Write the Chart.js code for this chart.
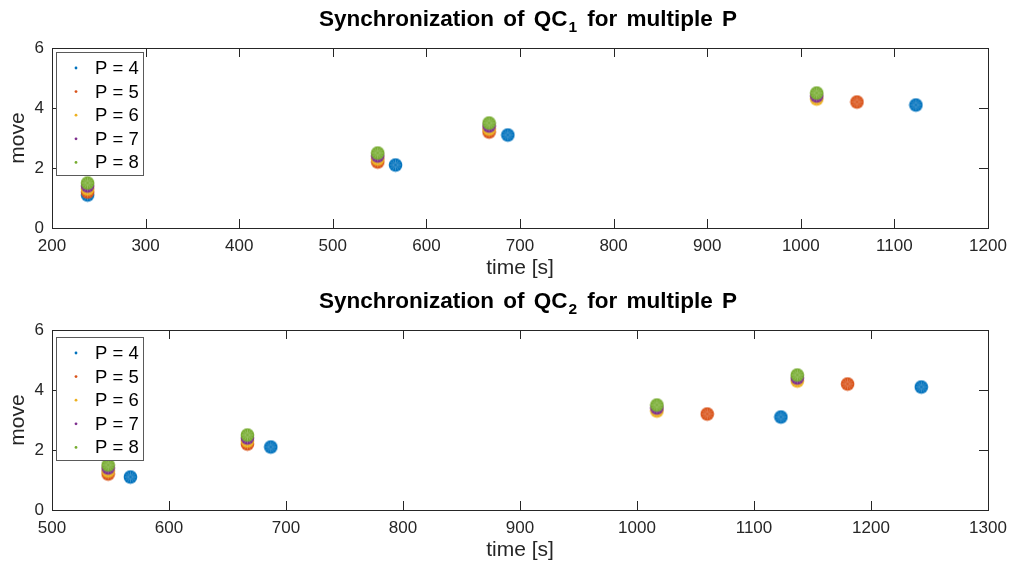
<!DOCTYPE html>
<html><head><meta charset="utf-8">
<script src="https://cdn.jsdelivr.net/npm/chart.js@4/dist/chart.umd.min.js"></script>
<style>
html,body{margin:0;padding:0;background:#fff;width:1016px;height:572px;overflow:hidden;}
canvas{position:absolute;left:0;}
#c1{top:0;}
#c2{top:282px;}
</style></head><body>
<canvas id="c1" width="1016" height="286" style="width:1016px;height:286px"></canvas>
<canvas id="c2" width="1016" height="290" style="width:1016px;height:290px"></canvas>
<script>
// ---- data ----
const seriesLabels = ['P = 4', 'P = 5', 'P = 6', 'P = 7', 'P = 8'];
const seriesColors = ['#0072BD', '#D95319', '#EDB120', '#7E2F8E', '#77AC30'];

const moveP4 = [1.1, 2.1, 3.1, 4.1];
const moveP5 = [1.2, 2.2, 3.2, 4.2];
const moveP6 = [1.3, 2.3, 3.3, 4.3];
const moveP7 = [1.4, 2.4, 3.4, 4.4];
const moveP8 = [1.5, 2.5, 3.5, 4.5];

const qc1TimeP4 = [238, 567, 687, 1123];
const qc1TimeP5 = [238, 548, 667, 1060];
const qc1TimeP6 = [238, 548, 667, 1017];
const qc1TimeP7 = [238, 548, 667, 1017];
const qc1TimeP8 = [238, 548, 667, 1017];

const qc2TimeP4 = [567, 687, 1123, 1243];
const qc2TimeP5 = [548, 667, 1060, 1180];
const qc2TimeP6 = [548, 667, 1017, 1137];
const qc2TimeP7 = [548, 667, 1017, 1137];
const qc2TimeP8 = [548, 667, 1017, 1137];

const qc1XTicks = [200, 300, 400, 500, 600, 700, 800, 900, 1000, 1100, 1200];
const qc2XTicks = [500, 600, 700, 800, 900, 1000, 1100, 1200, 1300];
const yTicks = [0, 2, 4, 6];

const moves = [moveP4, moveP5, moveP6, moveP7, moveP8];
const qc1Times = [qc1TimeP4, qc1TimeP5, qc1TimeP6, qc1TimeP7, qc1TimeP8];
const qc2Times = [qc2TimeP4, qc2TimeP5, qc2TimeP6, qc2TimeP7, qc2TimeP8];

// ---- styling helpers ----
const FONT = '"Liberation Sans", Arial, Helvetica, sans-serif';
const AX = '#262626';

function lighten(hex, f) {
  const n = parseInt(hex.slice(1), 16);
  const r = (n >> 16) & 255, g = (n >> 8) & 255, b = n & 255;
  const m = v => Math.round(v + (255 - v) * f);
  return `rgb(${m(r)},${m(g)},${m(b)})`;
}
function makeMarker(color) {
  const c = document.createElement('canvas');
  c.width = 15; c.height = 15;
  const g = c.getContext('2d');
  g.fillStyle = color;
  g.beginPath(); g.arc(7.5, 7.5, 6.8, 0, Math.PI * 2); g.fill();
  g.strokeStyle = lighten(color, 0.3);
  g.lineWidth = 0.8;
  for (let k = 0; k < 12; k++) {
    const a = k * Math.PI / 6;
    g.beginPath(); g.moveTo(7.5 + 1.2 * Math.cos(a), 7.5 + 1.2 * Math.sin(a));
    g.lineTo(7.5 + 5.6 * Math.cos(a), 7.5 + 5.6 * Math.sin(a)); g.stroke();
  }
  return c;
}
const markers = seriesColors.map(makeMarker);

function buildDatasets(times) {
  return seriesLabels.map((lab, i) => ({
    label: lab,
    data: times[i].map((t, j) => ({ x: t, y: moves[i][j] })),
    pointStyle: markers[i],
    pointRadius: 7,
    backgroundColor: seriesColors[i],
    borderColor: seriesColors[i],
    showLine: false,
    order: seriesLabels.length - 1 - i
  }));
}

const decor = {
  id: 'decor',
  afterDraw(chart, args, o) {
    const ctx = chart.ctx;
    const a = chart.chartArea;
    const xs = chart.scales.x, ys = chart.scales.y;
    ctx.save();
    // box
    ctx.strokeStyle = AX; ctx.lineWidth = 1;
    ctx.strokeRect(Math.round(a.left) + 0.5, Math.round(a.top) + 0.5, Math.round(a.right - a.left), Math.round(a.bottom - a.top));
    // inward ticks on all four sides
    const tl = 9;
    ctx.beginPath();
    xs.ticks.forEach(t => {
      const px = Math.round(xs.getPixelForValue(t.value)) + 0.5;
      ctx.moveTo(px, a.bottom); ctx.lineTo(px, a.bottom - tl);
      ctx.moveTo(px, a.top); ctx.lineTo(px, a.top + tl);
    });
    ys.ticks.forEach(t => {
      const py = Math.round(ys.getPixelForValue(t.value)) + 0.5;
      ctx.moveTo(a.left, py); ctx.lineTo(a.left + tl, py);
      ctx.moveTo(a.right, py); ctx.lineTo(a.right - tl, py);
    });
    ctx.stroke();

    // title with subscript
    ctx.fillStyle = '#000';
    ctx.textBaseline = 'alphabetic';
    const tf = 'bold 22.5px ' + FONT, sf = 'bold 15.5px ' + FONT;
    if ('wordSpacing' in ctx) ctx.wordSpacing = '3px';
    ctx.font = tf; const w1 = ctx.measureText(o.t1).width, w3 = ctx.measureText(o.t3).width;
    ctx.font = sf; const w2 = ctx.measureText(o.sub).width + 2;
    let x = 528 - (w1 + w2 + w3) / 2;
    ctx.textAlign = 'left';
    ctx.font = tf; ctx.fillText(o.t1, x, o.titleY); x += w1;
    ctx.font = sf; ctx.fillText(o.sub, x + 1, o.titleY + 6); x += w2;
    ctx.font = tf; ctx.fillText(o.t3, x, o.titleY);
    if ('wordSpacing' in ctx) ctx.wordSpacing = '0px';

    // axis titles
    ctx.fillStyle = AX;
    ctx.font = '21px ' + FONT;
    ctx.textAlign = 'center'; ctx.textBaseline = 'middle';
    ctx.fillText('time [s]', (a.left + a.right) / 2, a.bottom + 40);
    ctx.save();
    ctx.translate(18, (a.top + a.bottom) / 2);
    ctx.rotate(-Math.PI / 2);
    ctx.fillText('move', 0, 0);
    ctx.restore();

    // legend
    const lx = 56, ly = a.top + o.legOff, lw = 87, lh = 123;
    ctx.fillStyle = '#fff';
    ctx.fillRect(lx, ly, lw, lh);
    ctx.strokeStyle = '#5a5a5a'; ctx.lineWidth = 1;
    ctx.strokeRect(lx + 0.5, ly + 0.5, lw, lh);
    ctx.font = '18.5px ' + FONT;
    ctx.textAlign = 'left'; ctx.textBaseline = 'middle';
    seriesLabels.forEach((lab, i) => {
      const cy = ly + 16 + i * 23.6;
      ctx.fillStyle = seriesColors[i];
      ctx.beginPath(); ctx.arc(76, cy, 1.4, 0, Math.PI * 2); ctx.fill();
      ctx.fillStyle = '#000';
      ctx.fillText(lab, 95, cy + 1);
    });
    ctx.restore();
  }
};

function makeChart(id, times, xTicks, xmin, xmax, xAxisH, opts) {
  return new Chart(document.getElementById(id), {
    type: 'scatter',
    data: { datasets: buildDatasets(times) },
    options: {
      responsive: false,
      devicePixelRatio: 1,
      animation: false,
      layout: { padding: { top: 48, right: 28, left: 0, bottom: 0 } },
      plugins: { legend: { display: false }, tooltip: { enabled: false }, decor: opts },
      scales: {
        x: {
          type: 'linear', min: xmin, max: xmax,
          afterBuildTicks: s => { s.ticks = xTicks.map(v => ({ value: v })); },
          afterFit: s => { s.height = xAxisH; },
          grid: { drawOnChartArea: false, drawTicks: false },
          border: { display: false },
          ticks: { color: AX, font: { family: FONT, size: 17 }, padding: 8, maxRotation: 0, autoSkip: false,
                   callback: v => String(v) }
        },
        y: {
          type: 'linear', min: 0, max: 6,
          afterBuildTicks: s => { s.ticks = yTicks.map(v => ({ value: v })); },
          afterFit: s => { s.width = 52; },
          grid: { drawOnChartArea: false, drawTicks: false },
          border: { display: false },
          ticks: { color: AX, font: { family: FONT, size: 17 }, padding: 8, callback: v => String(v) }
        }
      }
    },
    plugins: [decor]
  });
}

makeChart('c1', qc1Times, qc1XTicks, 200, 1200, 58,
  { t1: 'Synchronization of QC', sub: '1', t3: ' for multiple P', titleY: 26, legOff: 4 });
makeChart('c2', qc2Times, qc2XTicks, 500, 1300, 62,
  { t1: 'Synchronization of QC', sub: '2', t3: ' for multiple P', titleY: 26, legOff: 7 });
</script>
</body></html>
